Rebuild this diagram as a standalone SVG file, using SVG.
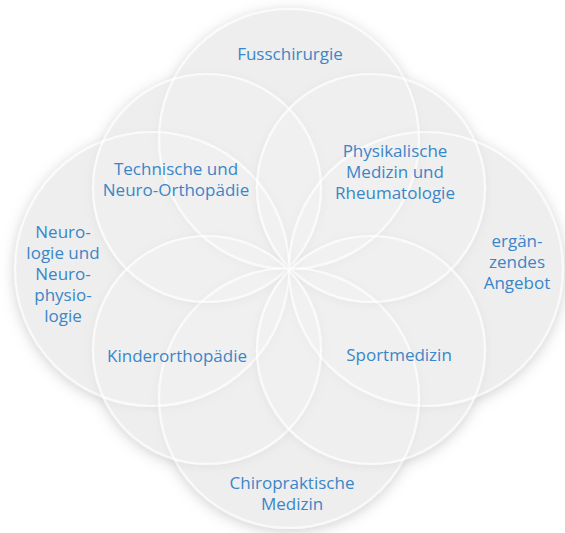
<svg xmlns="http://www.w3.org/2000/svg" xmlns:xlink="http://www.w3.org/1999/xlink" width="565" height="533" viewBox="0 0 565 533">
<style>
.c{fill:#ffffff;fill-opacity:0.08;stroke:#ffffff;stroke-opacity:0.7;stroke-width:2.2}
.base{fill:#ededed}
.t{font-family:"Open Sans","Noto Sans","Liberation Sans",sans-serif;font-size:17px;fill:#3a86c8;text-anchor:middle}
</style>
<defs>
<filter id="outer" x="-30%" y="-30%" width="160%" height="160%">
<feGaussianBlur in="SourceAlpha" stdDeviation="8" result="b"/>
<feOffset in="b" dx="0" dy="3" result="o"/>
<feColorMatrix in="o" type="matrix" values="0 0 0 0 0.35 0 0 0 0 0.35 0 0 0 0 0.35 0 0 0 0.4 0"/>
</filter>
<filter id="sh" x="-20%" y="-20%" width="140%" height="140%">
<feColorMatrix in="SourceAlpha" type="matrix" values="0 0 0 0 0 0 0 0 0 0 0 0 0 0 0 0 0 0 100 0" result="solid"/>
<feGaussianBlur in="solid" stdDeviation="4" result="b"/>
<feOffset in="b" dx="0" dy="2" result="bo"/>
<feComposite in="bo" in2="solid" operator="out" result="s"/>
<feColorMatrix in="s" type="matrix" values="0 0 0 0 0.4 0 0 0 0 0.4 0 0 0 0 0.4 0 0 0 0.16 0" result="s2"/>
<feMerge><feMergeNode in="s2"/><feMergeNode in="SourceGraphic"/></feMerge>
</filter>
<circle id="ctop" cx="289" cy="139" r="130"/>
<circle id="cleft" cx="152" cy="269" r="137"/>
<circle id="cright" cx="426" cy="269" r="137"/>
<circle id="cbottom" cx="289" cy="398" r="130"/>
<circle id="ctl" cx="207" cy="188" r="114"/>
<circle id="ctr" cx="371" cy="188" r="114"/>
<circle id="cbl" cx="207" cy="350" r="114"/>
<circle id="cbr" cx="371" cy="350" r="114"/>
</defs>
<rect width="565" height="533" fill="#ffffff"/>
<g id="shadow" filter="url(#outer)">
<use xlink:href="#ctop"/><use xlink:href="#cleft"/><use xlink:href="#cright"/><use xlink:href="#cbottom"/>
<use xlink:href="#ctl"/><use xlink:href="#ctr"/><use xlink:href="#cbl"/><use xlink:href="#cbr"/>
</g>
<g id="base" class="base">
<use xlink:href="#ctop"/><use xlink:href="#cleft"/><use xlink:href="#cright"/><use xlink:href="#cbottom"/>
<use xlink:href="#ctl"/><use xlink:href="#ctr"/><use xlink:href="#cbl"/><use xlink:href="#cbr"/>
</g>
<g id="connectors"/>
<g id="node-fusschirurgie">
<use xlink:href="#ctop" class="c" filter="url(#sh)"/>
<text class="t" x="290" y="60">Fusschirurgie</text>
</g>
<g id="node-neurologie">
<use xlink:href="#cleft" class="c" filter="url(#sh)"/>
<text class="t" x="63" y="238">Neuro-</text>
<text class="t" x="63" y="259">logie und</text>
<text class="t" x="63" y="280">Neuro-</text>
<text class="t" x="63" y="301">physio-</text>
<text class="t" x="63" y="322">logie</text>
</g>
<g id="node-ergaenzendes">
<use xlink:href="#cright" class="c" filter="url(#sh)"/>
<text class="t" x="517" y="247">ergän-</text>
<text class="t" x="517" y="268">zendes</text>
<text class="t" x="517" y="289">Angebot</text>
</g>
<g id="node-chiropraktische">
<use xlink:href="#cbottom" class="c" filter="url(#sh)"/>
<text class="t" x="292" y="489">Chiropraktische</text>
<text class="t" x="292" y="510">Medizin</text>
</g>
<g id="node-technische">
<use xlink:href="#ctl" class="c" filter="url(#sh)"/>
<text class="t" x="176" y="175">Technische und</text>
<text class="t" x="176" y="196">Neuro-Orthopädie</text>
</g>
<g id="node-physikalische">
<use xlink:href="#ctr" class="c" filter="url(#sh)"/>
<text class="t" x="395" y="157">Physikalische</text>
<text class="t" x="395" y="178">Medizin und</text>
<text class="t" x="395" y="199">Rheumatologie</text>
</g>
<g id="node-kinderorthopaedie">
<use xlink:href="#cbl" class="c" filter="url(#sh)"/>
<text class="t" x="177" y="362">Kinderorthopädie</text>
</g>
<g id="node-sportmedizin">
<use xlink:href="#cbr" class="c" filter="url(#sh)"/>
<text class="t" x="399" y="361">Sportmedizin</text>
</g>
</svg>
